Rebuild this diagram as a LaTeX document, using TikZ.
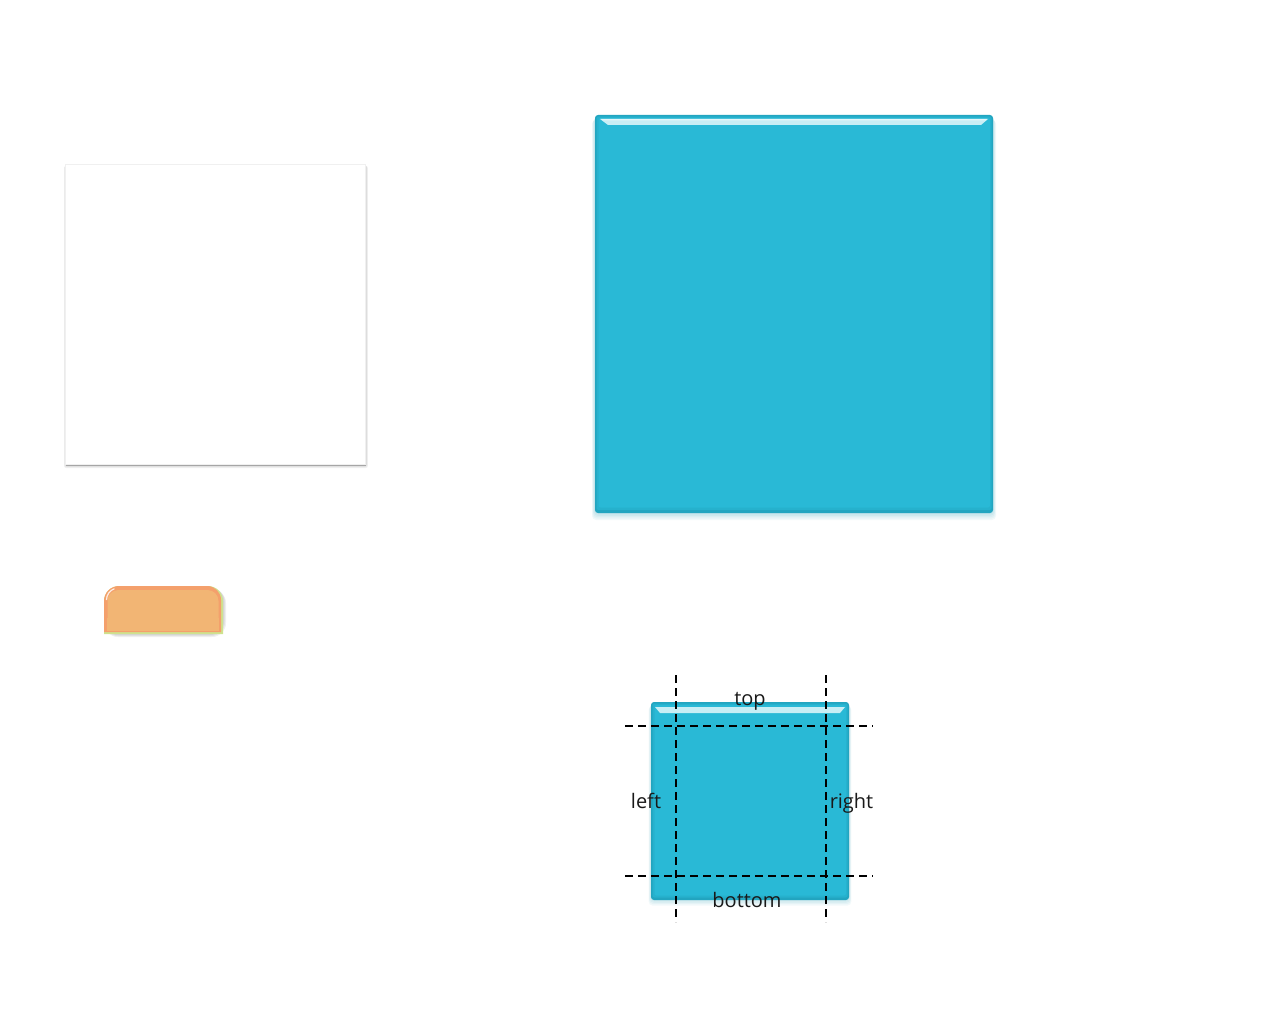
\documentclass[tikz,border=0pt]{standalone}
\usepackage{fontspec}
\setmainfont{Open Sans}
\definecolor{teal1}{HTML}{29B9D6}
\definecolor{teal2}{HTML}{22A5C0}
\definecolor{teal3}{HTML}{1E97B0}
\definecolor{hilite}{HTML}{C8EEF5}
\definecolor{orng}{HTML}{F2B574}
\definecolor{orng2}{HTML}{F4A06C}
\definecolor{grn}{HTML}{CFE28E}
\begin{document}
\begin{tikzpicture}[x=1pt,y=-1pt,
  lbl/.style={font=\fontsize{20}{24}\selectfont, inner sep=0pt, text=black!90, anchor=base},
  guide/.style={black, line width=2pt, dash pattern=on 8pt off 5pt},
  shade1/.style={fill=black, opacity=0.06},
]
\useasboundingbox (0,0) rectangle (1280,1024);

% ---- white square with shadow
\foreach \d in {1,2,3,4}{
  \fill[shade1, rounded corners=2pt] (65-\d*0.5+1,164+\d*0.5) rectangle (365+\d*0.7,464+\d*1.0);
}
\fill[black!35] (65.5,462) rectangle (365.5,465.5);
\node[draw=black!6, fill=white, minimum size=300pt, inner sep=0pt, line width=0.6pt] (white) at (215,314) {};

% ---- orange button
\foreach \d in {1,2,3}{
  \fill[shade1, rounded corners=14pt] (104,586+\d) -- (223+\d,586+\d) -- (223+\d,634+\d) -- (104,634+\d) -- cycle;
}
\path[fill=grn] (104,634) -- (104,601) arc[start angle=180,end angle=270,radius=15] -- (208,586) arc[start angle=270,end angle=360,radius=15] -- (223,634) -- cycle;
\path[fill=orng2] (104,632) -- (104,601) arc[start angle=180,end angle=270,radius=15] -- (207,586) arc[start angle=270,end angle=360,radius=14] -- (221,632) -- cycle;
\node[fill=orng, minimum width=111pt, minimum height=40pt, inner sep=0pt, rounded corners=11pt] (btn) at (163,610) {};
\fill[orng] (107,618) rectangle (219,631);
\draw[white, opacity=0.8, line width=1.2pt] (106.5,600) arc[start angle=180,end angle=250,radius=12];

% ---- big teal square
\foreach \d in {1,2,3,4,5}{
  \fill[fill=teal3, opacity=0.06, rounded corners=4pt] (595-\d*0.6,115+\d) rectangle (993+\d*0.6,513+\d*1.4);
}
\node[fill=teal2, minimum size=398pt, inner sep=0pt, rounded corners=3pt] (big) at (794,314) {};
\fill[teal1!60!teal2, rounded corners=2pt] (596.5,116.5) rectangle (991.5,510);
\fill[teal1, rounded corners=2pt] (598.5,118) rectangle (990,507.5);
\fill[hilite] (600,119) -- (988,119) -- (981,125) -- (608,125) -- cycle;
\fill[white, opacity=0.5] (601,119) -- (987,119) -- (985.5,120.5) -- (602.5,120.5) -- cycle;

% ---- small teal square
\foreach \d in {1,2,3,4}{
  \fill[fill=teal3, opacity=0.06, rounded corners=4pt] (651-\d*0.6,702+\d) rectangle (849+\d*0.6,900+\d*1.4);
}
\node[fill=teal2, minimum size=198pt, inner sep=0pt, rounded corners=3pt] (small) at (750,801) {};
\fill[teal1!60!teal2, rounded corners=2pt] (652.5,703.5) rectangle (847.5,897.5);
\fill[teal1, rounded corners=2pt] (654.5,705) rectangle (846,895.5);
\fill[hilite] (655,707) -- (845,707) -- (840,713) -- (660,713) -- cycle;

% ---- guides
\coordinate (v1t) at (676,675); \coordinate (v1b) at (676,922);
\coordinate (v2t) at (826,675); \coordinate (v2b) at (826,922);
\coordinate (h1l) at (625,726); \coordinate (h1r) at (873,726);
\coordinate (h2l) at (625,876); \coordinate (h2r) at (873,876);
\draw[guide] (v1t) -- (v1b);
\draw[guide] (v2t) -- (v2b);
\draw[guide] (h1l) -- (h1r);
\draw[guide] (h2l) -- (h2r);

% ---- labels
\node[lbl] (ltop) at (750,705) {top};
\node[lbl] (lleft) at (646,808) {left};
\node[lbl] (lright) at (851.5,808) {right};
\node[lbl] (lbottom) at (747,907) {bottom};
\end{tikzpicture}
\end{document}
